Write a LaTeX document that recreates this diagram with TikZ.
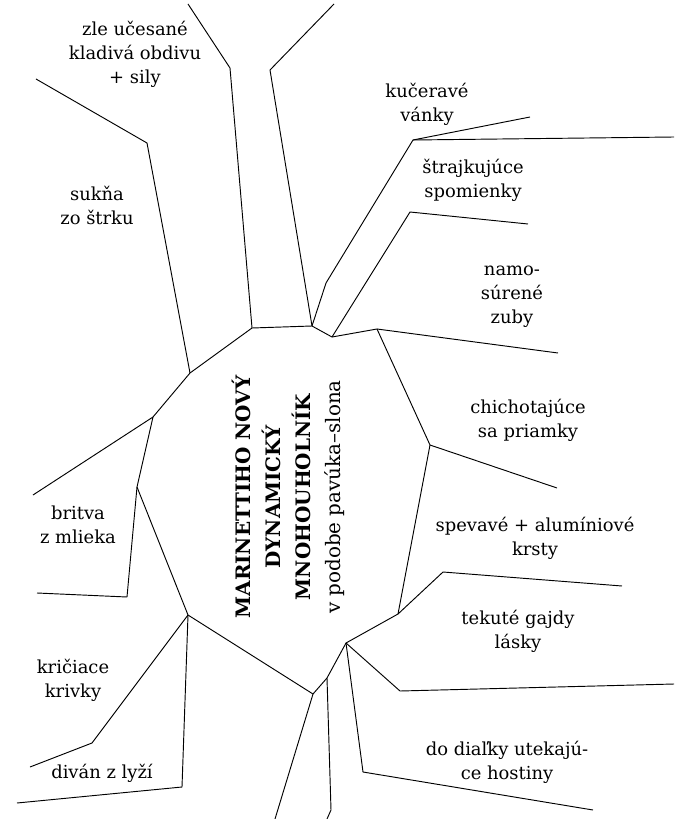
\documentclass[tikz,border=0pt]{standalone}
\usepackage{fontspec}
\setmainfont{DejaVu Serif}
\begin{document}
\begin{tikzpicture}[x=0.03cm, y=-0.03cm, line width=0.8pt, line join=round,
    leg/.style={align=center, inner sep=0pt, font=\fontsize{15.3}{20.5}\selectfont},
    title/.style={align=center, inner sep=0pt, rotate=90, font=\fontsize{17}{25.6}\selectfont\bfseries}]
  \useasboundingbox (0,0) rectangle (674,819);

  % Polygon corners
  \coordinate (c1) at (252,328);  \coordinate (c2) at (312,326);
  \coordinate (c3) at (332,337);  \coordinate (c4) at (377,329);
  \coordinate (c5) at (430,445);  \coordinate (c6) at (398,614);
  \coordinate (c7) at (346,643);  \coordinate (c8) at (327,678);
  \coordinate (c9) at (313,694);  \coordinate (c10) at (188,615);
  \coordinate (c11) at (137,487); \coordinate (c12) at (153,417);
  \coordinate (c13) at (190,373);
  \draw (c1) -- (c2) -- (c3) -- (c4) -- (c5) -- (c6) -- (c7) -- (c8)
    -- (c9) -- (c10) -- (c11) -- (c12) -- (c13) -- cycle;

  % Legs, top
  \coordinate (b1) at (230,68);  \coordinate (e1) at (188,4);
  \coordinate (b2) at (270,70);  \coordinate (e2) at (334,4);
  \coordinate (b3) at (326,283); \coordinate (b3a) at (413,140);
  \coordinate (e3) at (674,137); \coordinate (e3a) at (530,117);
  \coordinate (b4) at (410,212); \coordinate (e4) at (528,224);
  \coordinate (b13) at (147,143); \coordinate (e13) at (36,79);
  \draw (c1) -- (b1) -- (e1);
  \draw (c2) -- (b2) -- (e2);
  \draw (c2) -- (b3) -- (b3a) -- (e3);
  \draw (b3a) -- (e3a);
  \draw (c3) -- (b4) -- (e4);
  \draw (c13) -- (b13) -- (e13);

  % Legs, right
  \coordinate (e5) at (558,353);
  \coordinate (e6) at (557,488);
  \coordinate (b7) at (443,572); \coordinate (e7) at (622,586);
  \coordinate (b8) at (400,691); \coordinate (e8) at (674,684);
  \coordinate (b9) at (363,772); \coordinate (e9) at (593,810);
  \draw (c4) -- (e5);
  \draw (c5) -- (e6);
  \draw (c6) -- (b7) -- (e7);
  \draw (c7) -- (b8) -- (e8);
  \draw (c7) -- (b9) -- (e9);

  % Legs, bottom and left
  \coordinate (b10) at (331,810); \coordinate (e10) at (327,819);
  \coordinate (e11) at (275,819);
  \coordinate (b12) at (92,743);  \coordinate (e12) at (30,767);
  \coordinate (b14) at (182,787); \coordinate (e14) at (17,803);
  \coordinate (b15) at (127,597); \coordinate (e15) at (37,593);
  \coordinate (e16) at (33,495);
  \draw (c8) -- (b10) -- (e10);
  \draw (c9) -- (e11);
  \draw (c10) -- (b12) -- (e12);
  \draw (c10) -- (b14) -- (e14);
  \draw (c11) -- (b15) -- (e15);
  \draw (c12) -- (e16);

  % Title
  \node[title] (nazov) at (288,497) {MARINETTIHO NOVÝ\\DYNAMICKÝ\\MNOHOUHOLNÍK\\\mdseries v podobe pavúka–slona};

  % Legends
  \node[leg] (kladiva) at (135,54) {zle učesané\\kladivá obdivu\\+ sily};
  \node[leg] (sukna) at (97,205) {sukňa\\zo štrku};
  \node[leg] (vanky) at (427,104) {kučeravé\\vánky};
  \node[leg] (spomienky) at (473,180) {štrajkujúce\\spomienky};
  \node[leg] (zuby) at (512,297) {namo-\\súrené\\zuby};
  \node[leg] (priamky) at (528,420) {chichotajúce\\sa priamky};
  \node[leg] (krsty) at (535,538) {spevavé + alumíniové\\krsty};
  \node[leg] (gajdy) at (518,631) {tekuté gajdy\\lásky};
  \node[leg] (hostiny) at (507,762) {do diaľky utekajú-\\ce hostiny};
  \node[leg] (britva) at (78,525) {britva\\z mlieka};
  \node[leg] (krivky) at (73,680) {kričiace\\krivky};
  \node[leg] (divan) at (102,773) {diván z lyží};
\end{tikzpicture}
\end{document}
